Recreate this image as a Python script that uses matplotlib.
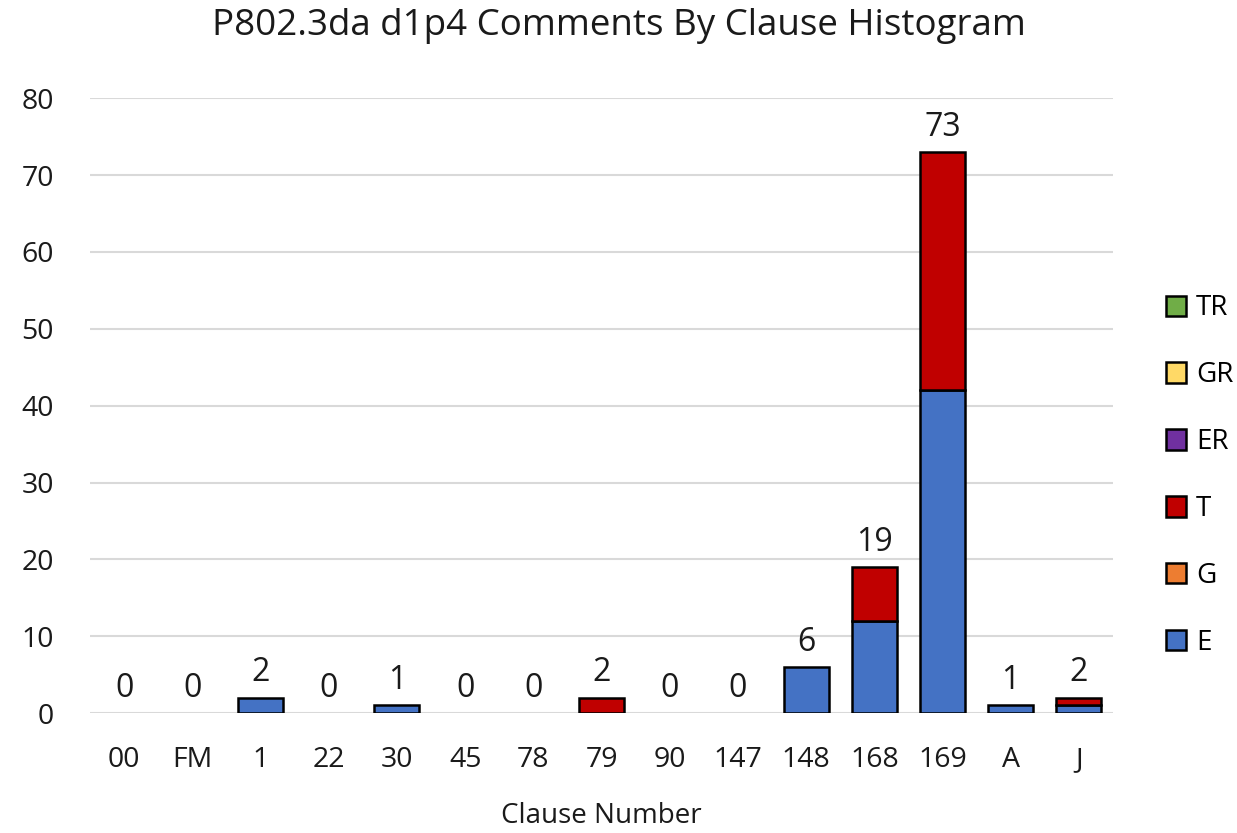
import matplotlib
matplotlib.use("Agg")
import matplotlib.pyplot as plt
import numpy as np

categories = ["00", "FM", "1", "22", "30", "45", "78", "79", "90", "147", "148", "168", "169", "A", "J"]
E = [0, 0, 2, 0, 1, 0, 0, 0, 0, 0, 6, 12, 42, 1, 1]
G = [0] * 15
T = [0, 0, 0, 0, 0, 0, 0, 2, 0, 0, 0, 7, 31, 0, 1]
ER = [0] * 15
GR = [0] * 15
TR = [0] * 15

series = [("E", E, "#4472C4"), ("G", G, "#ED7D31"), ("T", T, "#C00000"),
          ("ER", ER, "#7030A0"), ("GR", GR, "#FFD966"), ("TR", TR, "#70AD47")]

plt.rcParams['font.family'] = ['Open Sans', 'DejaVu Sans']

fig = plt.figure(figsize=(12.37, 8.33), dpi=100)
ax = fig.add_axes([0.0728, 0.144, 0.827, 0.738])

x = np.arange(len(categories))
bottom = np.zeros(len(categories))
handles = []
for name, vals, col in series:
    v = np.array(vals, dtype=float)
    nz = v > 0
    ax.bar(x[nz], v[nz], 0.66, bottom=bottom[nz], color=col, edgecolor="black",
           linewidth=1.8, zorder=3)
    h = plt.Rectangle((0, 0), 1, 1, facecolor=col, edgecolor="black", linewidth=1.8)
    handles.append(h)
    bottom += v

for xi, tot in zip(x, bottom):
    ax.annotate(f"{int(tot)}", (xi, tot), xytext=(0, 6), textcoords="offset points",
                ha="center", va="bottom", fontsize=23, color="#1a1a1a")

ax.set_xlim(-0.5, len(categories) - 0.5)
ax.set_ylim(0, 80)
ax.set_yticks(range(0, 81, 10))
ax.set_xticks(x)
ax.set_xticklabels(categories)
ax.tick_params(axis="both", length=0, labelsize=20.5, colors="#1a1a1a")
ax.tick_params(axis="x", pad=24)
ax.tick_params(axis="y", pad=26)
ax.grid(axis="y", color="#D9D9D9", linewidth=1.5, zorder=0)
for s in ax.spines.values():
    s.set_visible(False)
ax.set_xlabel("Clause Number", fontsize=20, labelpad=20, color="#1a1a1a")
fig.suptitle("P802.3da d1p4 Comments By Clause Histogram", fontsize=26.5, y=0.99, color="#1a1a1a")

leg = fig.legend(handles[::-1], [s[0] for s in series][::-1], loc="center left",
                 bbox_to_anchor=(0.922, 0.429), frameon=False, fontsize=20,
                 labelspacing=1.4, handlelength=0.75, handleheight=0.75, handletextpad=0.35)

fig.savefig("out.png", dpi=100)
